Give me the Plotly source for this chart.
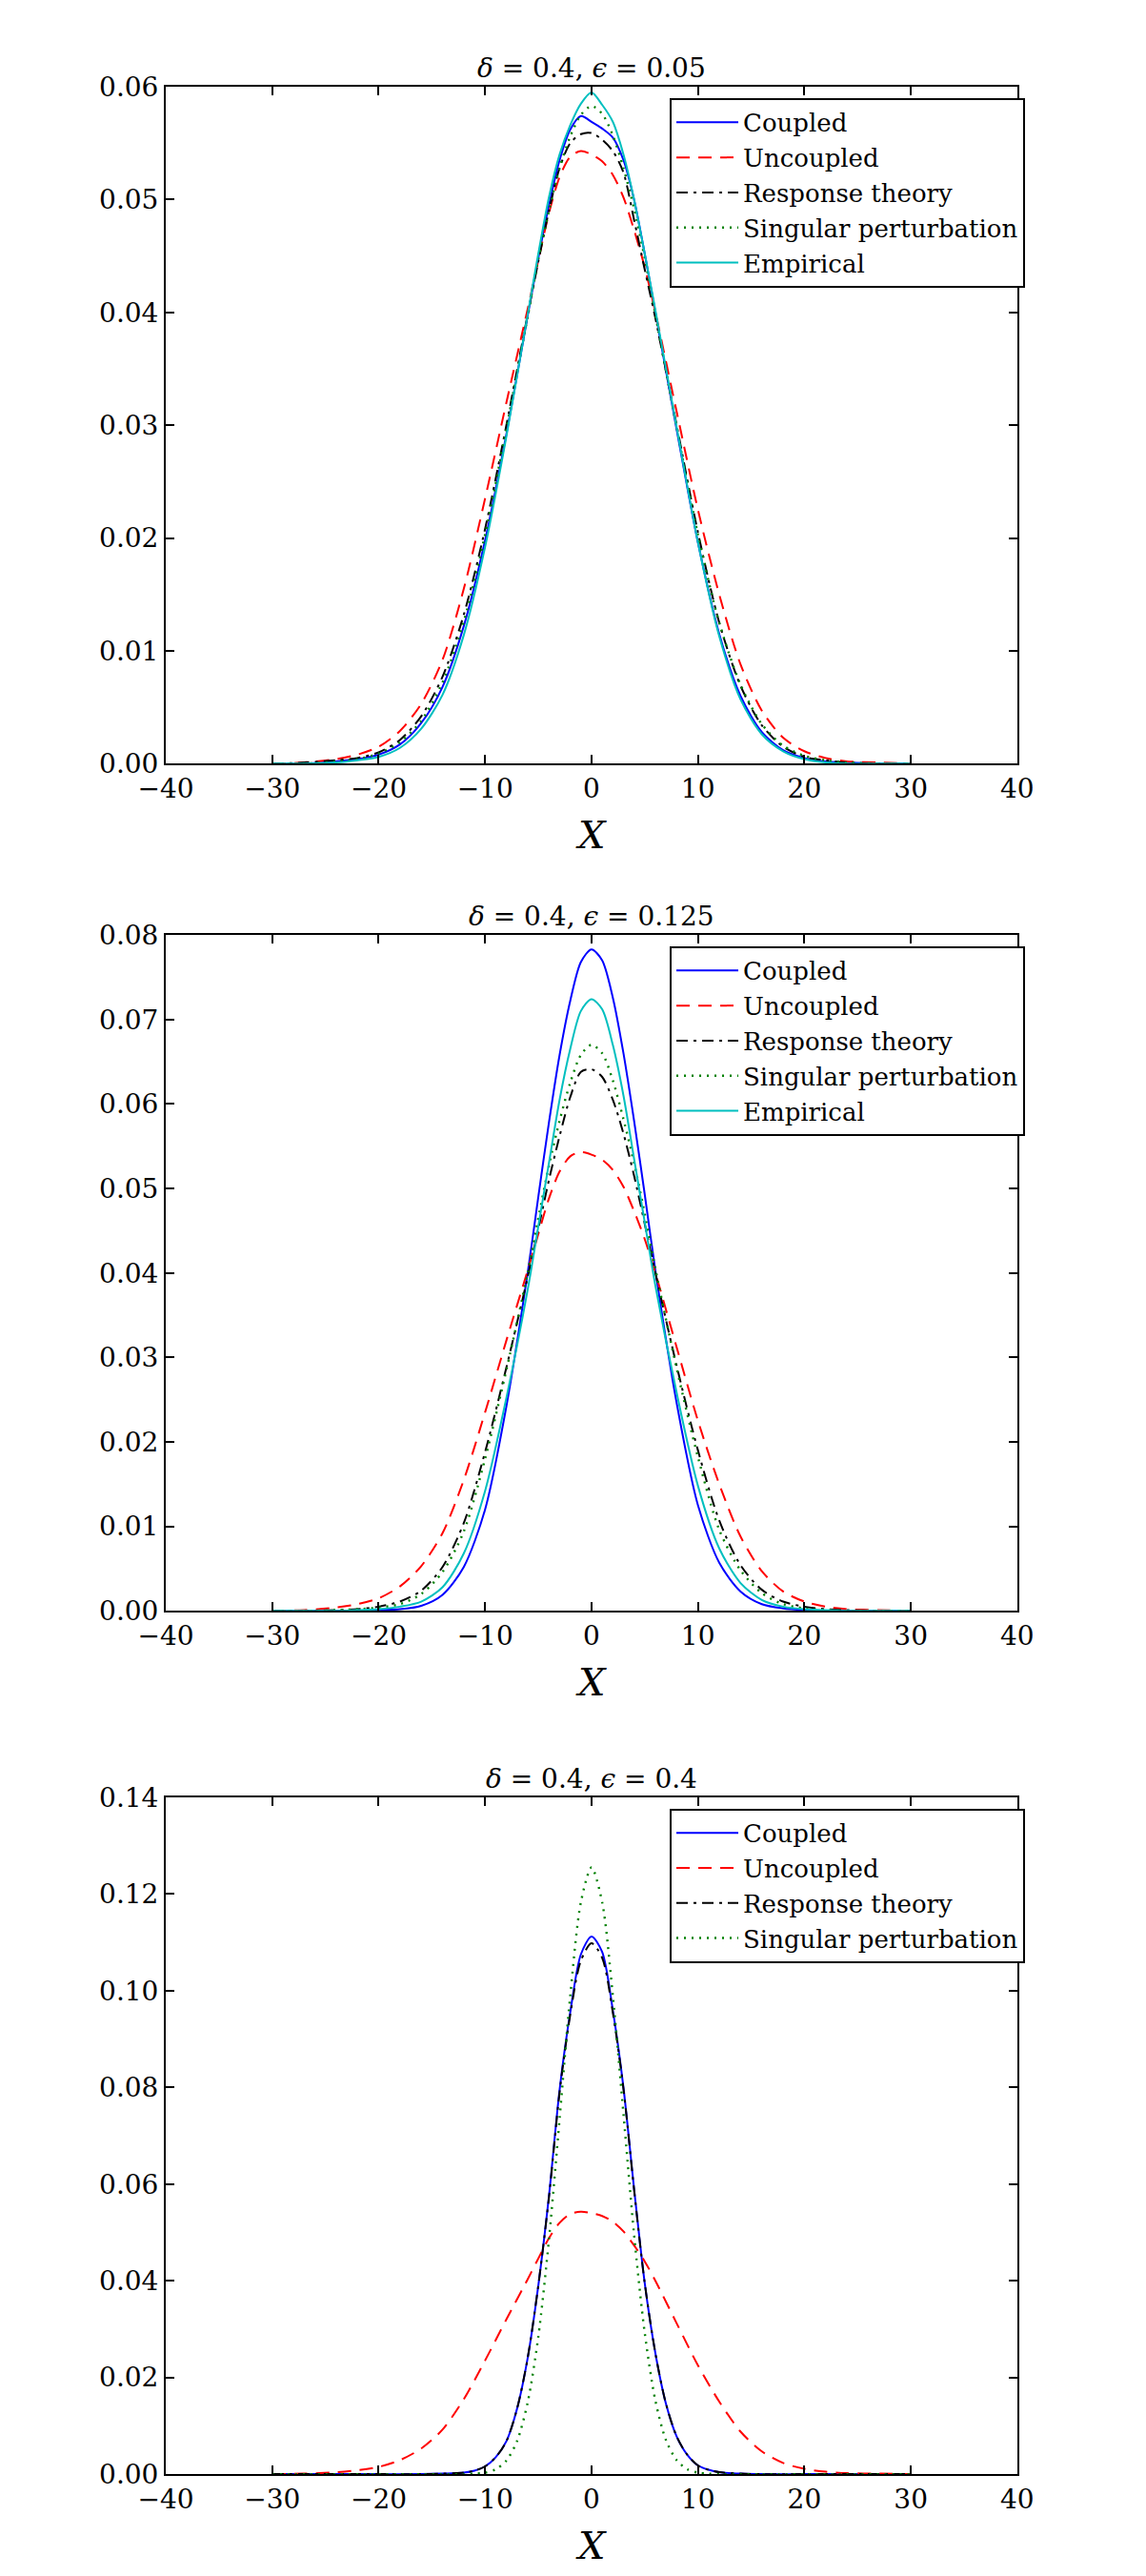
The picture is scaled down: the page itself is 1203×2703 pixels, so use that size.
import plotly.graph_objects as go

# ---------------- data ----------------
X_A = [-30, -27, -24, -22, -20, -18, -16, -14, -12, -10, -8, -6, -5, -4, -3, -2, -1, 0,
       1, 2, 3, 4, 5, 6, 8, 10, 12, 14, 16, 18, 20, 22, 24, 27, 30]
X_N = [-30, -20, -16, -14, -12, -11, -10, -9, -8, -7, -6, -5, -4, -3, -2, -1, 0,
       1, 2, 3, 4, 5, 6, 7, 8, 9, 10, 11, 12, 14, 16, 20, 30]

# uncoupled density (same in all panels)
uncoupled = [0.0000, 0.0001, 0.0004, 0.0008, 0.0015, 0.0029, 0.0053, 0.0092, 0.0155, 0.0235, 0.0320,
             0.0403, 0.0446, 0.0488, 0.0520, 0.0538, 0.0543, 0.0540,
             0.0534, 0.0522, 0.0502, 0.0473, 0.0440, 0.0400, 0.0312, 0.0225, 0.0150, 0.0088, 0.0047,
             0.0023, 0.0011, 0.0005, 0.0002, 0.0001, 0.0000]

# panel 1: delta=0.4, eps=0.05
p1_coupled = [0.0000, 0.0000, 0.0002, 0.0004, 0.0008, 0.0017, 0.0036, 0.0068, 0.0122, 0.0198, 0.0292,
              0.0397, 0.0448, 0.0495, 0.0535, 0.0562, 0.0574, 0.0569,
              0.0563, 0.0555, 0.0535, 0.0500, 0.0452, 0.0400, 0.0296, 0.0196, 0.0115, 0.0060, 0.0028,
              0.0012, 0.0005, 0.0002, 0.0001, 0.0000, 0.0000]
p1_response = [0.0000, 0.0001, 0.0003, 0.0005, 0.0010, 0.0021, 0.0042, 0.0077, 0.0132, 0.0208, 0.0300,
               0.0398, 0.0445, 0.0490, 0.0528, 0.0550, 0.0558, 0.0559,
               0.0553, 0.0543, 0.0524, 0.0482, 0.0438, 0.0395, 0.0300, 0.0205, 0.0125, 0.0069, 0.0034,
               0.0015, 0.0006, 0.0003, 0.0001, 0.0000, 0.0000]
p1_singular = [0.0000, 0.0000, 0.0002, 0.0004, 0.0009, 0.0019, 0.0038, 0.0072, 0.0126, 0.0203, 0.0297,
               0.0396, 0.0447, 0.0490, 0.0528, 0.0556, 0.0575, 0.0583,
               0.0576, 0.0557, 0.0528, 0.0492, 0.0448, 0.0398, 0.0298, 0.0203, 0.0125, 0.0070, 0.0035,
               0.0016, 0.0007, 0.0003, 0.0001, 0.0000, 0.0000]
p1_empirical = [0.0000, 0.0000, 0.0001, 0.0003, 0.0006, 0.0014, 0.0031, 0.0061, 0.0114, 0.0192, 0.0290,
                0.0398, 0.0452, 0.0502, 0.0540, 0.0566, 0.0585, 0.0595,
                0.0584, 0.0569, 0.0540, 0.0500, 0.0452, 0.0402, 0.0298, 0.0196, 0.0113, 0.0057, 0.0026,
                0.0011, 0.0004, 0.0001, 0.0000, 0.0000, 0.0000]

# panel 2: delta=0.4, eps=0.125
p2_coupled = [0.0000, 0.0000, 0.0000, 0.0000, 0.0001, 0.0002, 0.0006, 0.0019, 0.0052, 0.0120, 0.0242,
              0.0400, 0.0490, 0.0578, 0.0658, 0.0722, 0.0768, 0.0783,
              0.0770, 0.0726, 0.0660, 0.0580, 0.0493, 0.0403, 0.0246, 0.0125, 0.0057, 0.0023, 0.0008,
              0.0003, 0.0001, 0.0000, 0.0000, 0.0000, 0.0000]
p2_response = [0.0000, 0.0000, 0.0001, 0.0002, 0.0005, 0.0011, 0.0024, 0.0052, 0.0104, 0.0188, 0.0288,
               0.0395, 0.0452, 0.0510, 0.0562, 0.0608, 0.0638, 0.0641,
               0.0632, 0.0605, 0.0565, 0.0515, 0.0458, 0.0400, 0.0290, 0.0190, 0.0107, 0.0054, 0.0025,
               0.0011, 0.0005, 0.0002, 0.0001, 0.0000, 0.0000]
p2_singular = [0.0000, 0.0000, 0.0001, 0.0002, 0.0004, 0.0008, 0.0020, 0.0046, 0.0094, 0.0180, 0.0285,
               0.0400, 0.0465, 0.0527, 0.0580, 0.0625, 0.0658, 0.0670,
               0.0660, 0.0628, 0.0582, 0.0530, 0.0470, 0.0405, 0.0287, 0.0182, 0.0096, 0.0048, 0.0021,
               0.0008, 0.0003, 0.0001, 0.0000, 0.0000, 0.0000]
p2_empirical = [0.0000, 0.0000, 0.0000, 0.0001, 0.0002, 0.0005, 0.0011, 0.0028, 0.0068, 0.0142, 0.0252,
                0.0380, 0.0455, 0.0530, 0.0605, 0.0665, 0.0710, 0.0724,
                0.0712, 0.0670, 0.0610, 0.0535, 0.0460, 0.0385, 0.0258, 0.0148, 0.0074, 0.0033, 0.0013,
                0.0005, 0.0002, 0.0001, 0.0000, 0.0000, 0.0000]

# panel 3: delta=0.4, eps=0.4
p3_coupled = [0.0000, 0.0000, 0.0000, 0.0001, 0.0003, 0.0007, 0.0016, 0.0035, 0.0068, 0.0135, 0.0240,
              0.0390, 0.0575, 0.0795, 0.0955, 0.1075, 0.1112,
              0.1080, 0.0960, 0.0800, 0.0590, 0.0395, 0.0250, 0.0145, 0.0078, 0.0040, 0.0018, 0.0009,
              0.0004, 0.0001, 0.0000, 0.0000, 0.0000]
p3_response = [0.0000, 0.0000, 0.0000, 0.0001, 0.0003, 0.0007, 0.0016, 0.0035, 0.0068, 0.0135, 0.0240,
               0.0390, 0.0572, 0.0790, 0.0950, 0.1062, 0.1098,
               0.1068, 0.0955, 0.0797, 0.0588, 0.0395, 0.0250, 0.0145, 0.0078, 0.0040, 0.0018, 0.0009,
               0.0004, 0.0001, 0.0000, 0.0000, 0.0000]
p3_singular = [0.0000, 0.0000, 0.0000, 0.0000, 0.0000, 0.0001, 0.0003, 0.0010, 0.0028, 0.0068, 0.0148,
               0.0284, 0.0485, 0.0735, 0.0989, 0.1183, 0.1255,
               0.1183, 0.0990, 0.0745, 0.0495, 0.0292, 0.0152, 0.0070, 0.0029, 0.0010, 0.0003, 0.0001,
               0.0000, 0.0000, 0.0000, 0.0000, 0.0000]

titles = ["<i>δ</i> = 0.4, <i>ϵ</i> = 0.05",
          "<i>δ</i> = 0.4, <i>ϵ</i> = 0.125",
          "<i>δ</i> = 0.4, <i>ϵ</i> = 0.4"]
y_max = [0.06, 0.08, 0.14]
y_step = [0.01, 0.01, 0.02]
x_ticks = [-40, -30, -20, -10, 0, 10, 20, 30, 40]

# ---------------- layout geometry ----------------
W, H = 1203, 2703
left_px, right_px = 150, 1081
panel_px = [(76, 795), (977, 1695), (1893, 2612)]  # top, bottom in pixels

FONT = "DejaVu Serif"
styles = {
    "Coupled": dict(color="#0000ff", dash="solid", width=2),
    "Uncoupled": dict(color="#ff0000", dash="14px,9px", width=2),
    "Response theory": dict(color="#000000", dash="12px,6px,3px,6px", width=2),
    "Singular perturbation": dict(color="#008000", dash="2px,6px", width=2.4),
    "Empirical": dict(color="#00bfbf", dash="solid", width=2),
}

panels = [
    [("Coupled", X_A, p1_coupled), ("Uncoupled", X_A, uncoupled), ("Response theory", X_A, p1_response),
     ("Singular perturbation", X_A, p1_singular), ("Empirical", X_A, p1_empirical)],
    [("Coupled", X_A, p2_coupled), ("Uncoupled", X_A, uncoupled), ("Response theory", X_A, p2_response),
     ("Singular perturbation", X_A, p2_singular), ("Empirical", X_A, p2_empirical)],
    [("Coupled", X_N, p3_coupled), ("Uncoupled", X_A, uncoupled), ("Response theory", X_N, p3_response),
     ("Singular perturbation", X_N, p3_singular)],
]

fig = go.Figure()
layout = dict(width=W, height=H, margin=dict(l=0, r=0, t=0, b=0),
              paper_bgcolor="white", plot_bgcolor="white",
              font=dict(family=FONT, size=28, color="black"),
              annotations=[])

for i, traces in enumerate(panels):
    n = "" if i == 0 else str(i + 1)
    top, bot = panel_px[i]
    dom_y = [1 - bot / H, 1 - top / H]
    leg = "legend" + n
    for name, xs, ys in traces:
        st = styles[name]
        fig.add_trace(go.Scatter(
            x=xs, y=ys, name=name, mode="lines",
            line=dict(color=st["color"], dash=st["dash"], width=st["width"], shape="spline", smoothing=0.8),
            xaxis="x" + n, yaxis="y" + n, legend=leg, hoverinfo="skip"))
    ntick = int(round(y_max[i] / y_step[i]))
    yt = [round(k * y_step[i], 4) for k in range(ntick + 1)]
    layout["xaxis" + n] = dict(domain=[left_px / W, right_px / W], range=[-40, 40], anchor="y" + n,
                               tickvals=x_ticks, ticks="inside", ticklen=9, tickwidth=1.5, tickcolor="black",
                               showline=True, linecolor="black", linewidth=2, mirror="ticks",
                               showgrid=False, zeroline=False, tickfont=dict(family=FONT, size=28))
    layout["yaxis" + n] = dict(domain=dom_y, range=[0, y_max[i]], anchor="x" + n,
                               tickvals=yt, tickformat=".2f", ticks="inside", ticklen=9, tickwidth=1.5,
                               tickcolor="black", showline=True, linecolor="black", linewidth=2,
                               mirror="ticks", showgrid=False, zeroline=False,
                               tickfont=dict(family=FONT, size=28))
    layout[leg] = dict(x=701 / W, y=1 - (top + 12) / H, xanchor="left", yanchor="top",
                       bgcolor="white", bordercolor="black", borderwidth=2,
                       font=dict(family=FONT, size=26), itemwidth=65, tracegroupgap=0)
    layout["annotations"].append(dict(text=titles[i], xref="paper", yref="paper",
                                      x=(left_px + right_px) / 2 / W, y=1 - (top - 20) / H,
                                      xanchor="center", yanchor="middle", showarrow=False,
                                      font=dict(family=FONT, size=28)))
    layout["annotations"].append(dict(text="<i>X</i>", xref="paper", yref="paper",
                                      x=(left_px + right_px) / 2 / W, y=1 - (bot + 76) / H,
                                      xanchor="center", yanchor="middle", showarrow=False,
                                      font=dict(family=FONT, size=40)))

fig.update_layout(**layout)
fig.update_layout(showlegend=True)
fig.write_html("out.html")
